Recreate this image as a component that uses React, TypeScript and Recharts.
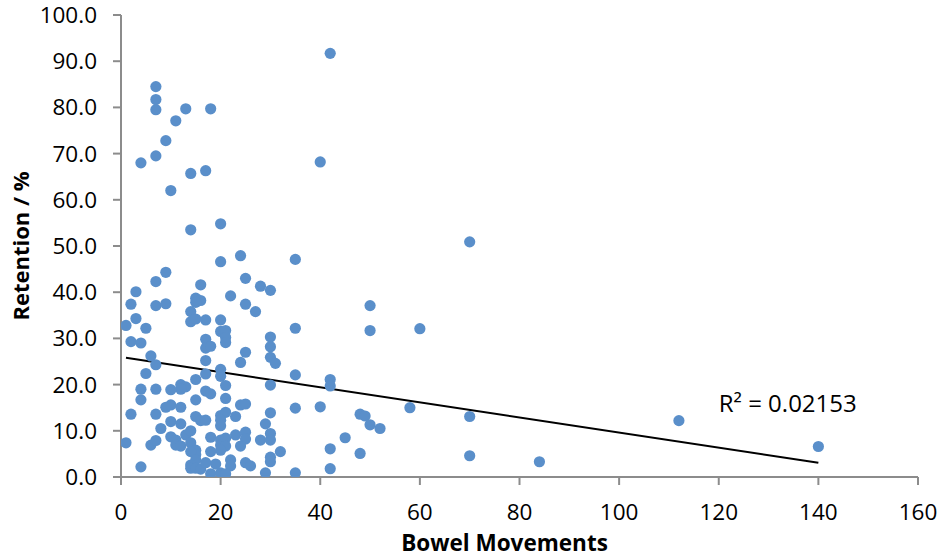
import React from 'react';
import { ScatterChart, Scatter, XAxis, YAxis, ReferenceLine, ReferenceDot, Label } from 'recharts';

const bowelMovements = [
  42, 7, 7, 7, 13, 18, 11, 9, 7, 4, 40, 14, 17, 10, 20, 14, 70, 24, 20, 35,
  9, 25, 7, 16, 28, 30, 3, 22, 15, 16, 15, 2, 7, 9, 25, 50, 14, 27, 14, 15,
  17, 20, 3, 1, 5, 35, 50, 60, 20, 21, 21, 21, 30, 2, 4, 17, 17, 18, 30, 25,
  6, 30, 31, 7, 17, 24, 20, 20, 5, 17, 35, 42, 42, 30, 21, 15, 12, 13, 12, 10,
  7, 4, 4, 17, 18, 15, 21, 2, 7, 9, 10, 12, 15, 16, 17, 20, 21, 20, 20, 23,
  24, 25, 30, 35, 40, 58, 70, 48, 49, 50, 52, 112, 8, 10, 12, 13, 14, 10, 11, 11,
  12, 14, 1, 6, 7, 15, 15, 14, 15, 14, 14, 15, 16, 18, 18, 17, 18, 19, 20, 20,
  21, 21, 20, 22, 22, 20, 21, 23, 25, 25, 24, 25, 26, 28, 29, 30, 30, 30, 30, 29,
  32, 35, 42, 42, 45, 48, 70, 84, 140, 4,
];

const retention = [
  91.7, 84.5, 81.7, 79.5, 79.7, 79.7, 77.1, 72.8, 69.5, 68.0, 68.2, 65.7, 66.3, 62.0, 54.8, 53.5, 50.9, 47.9, 46.6, 47.1,
  44.3, 43.0, 42.3, 41.6, 41.3, 40.4, 40.1, 39.2, 38.7, 38.2, 37.8, 37.4, 37.1, 37.5, 37.4, 37.1, 35.8, 35.8, 33.6, 34.2,
  34.0, 34.0, 34.3, 32.8, 32.2, 32.2, 31.7, 32.1, 31.5, 31.7, 30.2, 29.1, 30.3, 29.3, 29.0, 29.8, 27.9, 28.3, 28.2, 27.0,
  26.2, 25.9, 24.6, 24.3, 25.2, 24.8, 23.3, 21.8, 22.4, 22.3, 22.1, 21.1, 19.7, 19.9, 19.8, 21.1, 20.0, 19.5, 19.0, 18.9,
  19.0, 19.0, 16.7, 18.6, 18.0, 16.7, 17.0, 13.6, 13.6, 15.1, 15.6, 15.1, 13.1, 12.2, 12.3, 13.3, 14.0, 12.3, 11.1, 13.1,
  15.6, 15.8, 13.9, 14.9, 15.2, 15.0, 13.1, 13.6, 13.2, 11.3, 10.5, 12.2, 10.5, 12.0, 11.5, 9.1, 10.0, 8.7, 8.0, 6.9,
  6.7, 7.4, 7.4, 6.9, 7.9, 5.8, 4.8, 5.5, 3.7, 2.6, 1.9, 1.9, 1.7, 8.6, 5.5, 3.1, 0.7, 2.8, 8.0, 6.9,
  8.4, 6.7, 5.8, 3.7, 2.4, 0.9, 0.7, 9.1, 9.7, 8.2, 6.7, 3.1, 2.4, 8.0, 11.5, 9.4, 8.0, 4.3, 3.3, 0.9,
  5.5, 0.9, 6.1, 1.8, 8.5, 5.1, 4.6, 3.3, 6.6, 2.2,
];

const xTicks = [0, 20, 40, 60, 80, 100, 120, 140, 160];
const yTicks = [0, 10, 20, 30, 40, 50, 60, 70, 80, 90, 100];

const trendStart = { x: 1, y: 25.8 };
const trendEnd = { x: 140, y: 3.1 };
const rSquaredText = 'R² = 0.02153';
const rSquaredPos = { x: 120, y: 14 };

const points = bowelMovements.map((x, i) => ({ x, y: retention[i] }));

const FONT = '"Open Sans", sans-serif';
const AXIS_COLOR = '#8c8c8c';
const DOT_COLOR = '#5A8FCA';

const Dot = (props: any) => {
  const { cx, cy } = props;
  if (cx == null || cy == null) return null;
  return <circle cx={cx} cy={cy} r={5.6} fill={DOT_COLOR} />;
};

export default function App() {
  return (
    <div style={{ position: 'absolute', left: 0, top: 0, width: 942, height: 557, background: '#fff' }}>
      <ScatterChart width={942} height={557} margin={{ top: 15, right: 24, bottom: 0, left: 0 }}>
        <XAxis
          type="number"
          dataKey="x"
          domain={[0, 160]}
          ticks={xTicks}
          interval={0}
          height={80}
          tickSize={8}
          tickMargin={19}
          axisLine={{ stroke: AXIS_COLOR, strokeWidth: 2 }}
          tickLine={{ stroke: AXIS_COLOR, strokeWidth: 2 }}
          tick={{ fill: '#000', fontSize: 22.5, fontFamily: FONT }}
          allowDataOverflow
        >
          <Label
            value="Bowel Movements"
            position="insideBottom"
            offset={6}
            dx={-15}
            style={{ fill: '#000', fontSize: 22.5, fontWeight: 700, fontFamily: FONT }}
          />
        </XAxis>
        <YAxis
          type="number"
          dataKey="y"
          domain={[0, 100]}
          ticks={yTicks}
          interval={0}
          width={121}
          tickSize={8}
          tickMargin={16}
          tickFormatter={(v: number) => v.toFixed(1)}
          axisLine={{ stroke: AXIS_COLOR, strokeWidth: 2 }}
          tickLine={{ stroke: AXIS_COLOR, strokeWidth: 2 }}
          tick={{ fill: '#000', fontSize: 22.5, fontFamily: FONT }}
          allowDataOverflow
        >
          <Label
            value="Retention / %"
            position="insideLeft"
            angle={-90}
            offset={21}
            style={{ fill: '#000', fontSize: 22, fontWeight: 700, fontFamily: FONT, textAnchor: 'middle' }}
          />
        </YAxis>
        <Scatter data={points} shape={Dot} isAnimationActive={false} />
        <ReferenceLine
          segment={[trendStart, trendEnd]}
          stroke="#000"
          strokeWidth={2}
          ifOverflow="extendDomain"
        />
        <ReferenceDot
          x={rSquaredPos.x}
          y={rSquaredPos.y}
          r={0}
          fill="none"
          stroke="none"
          label={(p: any) => {
            const vb = p.viewBox || {};
            const cx = vb.x != null ? vb.x + (vb.width || 0) / 2 : 0;
            const cy = vb.y != null ? vb.y + (vb.height || 0) / 2 : 0;
            return (
              <text x={cx} y={cy} fill="#000" fontSize={24} fontFamily={FONT} textAnchor="start">
                {rSquaredText}
              </text>
            );
          }}
        />
      </ScatterChart>
    </div>
  );
}
